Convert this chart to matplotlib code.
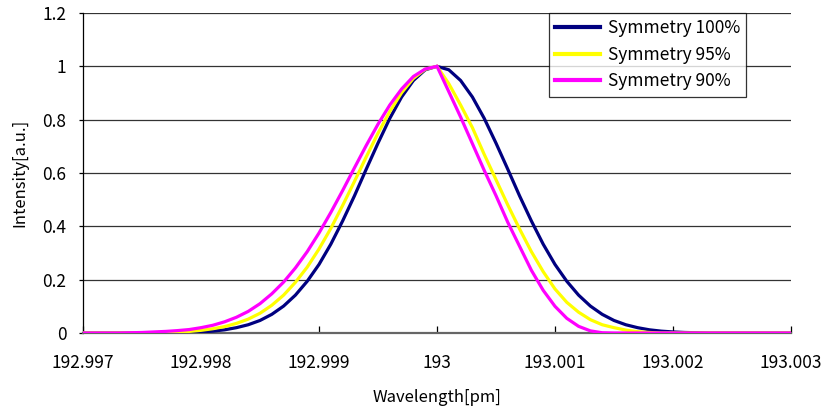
import numpy as np
import matplotlib
matplotlib.use("Agg")
import matplotlib.pyplot as plt

plt.rcParams['font.family'] = ['Noto Sans CJK JP', 'DejaVu Sans']

# Sampling grid: 192.997 .. 193.003 pm in 0.0001 pm steps (61 samples)
wavelength = np.linspace(192.997, 193.003, 61)

# Intensity profiles, left half (k = -30 .. -1), peak, right half (k = 1 .. 30)
sym100_left = [0, 0, 0, 0, 0, 0, 0, 0, 0.001, 0.002, 0.004, 0.007, 0.012, 0.020, 0.031,
               0.047, 0.070, 0.101, 0.142, 0.194, 0.257, 0.333, 0.420, 0.514, 0.614,
               0.712, 0.805, 0.885, 0.947, 0.987]
sym100_right = sym100_left[::-1]

sym95_left = [0, 0, 0, 0, 0, 0, 0.001, 0.002, 0.004, 0.006, 0.010, 0.016, 0.024, 0.036,
              0.052, 0.074, 0.104, 0.142, 0.190, 0.247, 0.315, 0.392, 0.478, 0.568,
              0.660, 0.749, 0.831, 0.901, 0.955, 0.989]
sym95_right = [0.935, 0.855, 0.770, 0.670, 0.575, 0.480, 0.390, 0.305, 0.230, 0.165,
               0.115, 0.078, 0.050, 0.031, 0.020, 0.011, 0.005, 0.002, 0, 0,
               0, 0, 0, 0, 0, 0, 0, 0, 0, 0]

sym90_left = [0, 0, 0, 0, 0.001, 0.002, 0.004, 0.006, 0.009, 0.013, 0.020, 0.029, 0.042,
              0.059, 0.081, 0.110, 0.147, 0.191, 0.244, 0.305, 0.375, 0.452, 0.534,
              0.619, 0.703, 0.783, 0.855, 0.915, 0.962, 0.990]
sym90_right = [0.905, 0.810, 0.710, 0.610, 0.515, 0.415, 0.325, 0.235, 0.160, 0.100,
               0.055, 0.025, 0.008, 0.001, 0, 0, 0, 0, 0, 0,
               0, 0, 0, 0, 0, 0, 0, 0, 0, 0]

peak = [1.0]
series = {
    "Symmetry 100%": (sym100_left + peak + sym100_right, "#000080"),
    "Symmetry 95%": (sym95_left + peak + sym95_right, "#FFFF00"),
    "Symmetry 90%": (sym90_left + peak + sym90_right, "#FF00FF"),
}

x_ticks = [192.997, 192.998, 192.999, 193.0, 193.001, 193.002, 193.003]
x_tick_labels = ["192.997", "192.998", "192.999", "193", "193.001", "193.002", "193.003"]
y_ticks = [0, 0.2, 0.4, 0.6, 0.8, 1.0, 1.2]
y_tick_labels = ["0", "0.2", "0.4", "0.6", "0.8", "1", "1.2"]

fig = plt.figure(figsize=(8.25, 4.09), dpi=100)
ax = fig.add_axes([0.1006, 0.1858, 0.8582, 0.7824])

for yt in y_ticks[1:]:
    ax.axhline(yt, color="#333333", lw=0.9, zorder=1)

for name, (vals, color) in series.items():
    ax.plot(wavelength, vals, color=color, lw=2.3, label=name, zorder=3,
            solid_joinstyle="miter")

ax.set_xlim(192.997, 193.003)
ax.set_ylim(0, 1.2)
ax.set_xticks(x_ticks)
ax.set_xticklabels(x_tick_labels)
ax.set_yticks(y_ticks)
ax.set_yticklabels(y_tick_labels)

for s in ("top", "right"):
    ax.spines[s].set_visible(False)
ax.spines["left"].set_color("black")
ax.spines["left"].set_linewidth(0.9)
ax.spines["bottom"].set_color("#666666")
ax.spines["bottom"].set_linewidth(1.6)

ax.tick_params(axis="x", direction="in", length=5, width=0.9, color="black",
               labelsize=12.5, pad=15)
ax.tick_params(axis="y", direction="out", length=3, width=0.9, labelsize=12.5, pad=9)

ax.set_xlabel("Wavelength[pm]", fontsize=12, labelpad=12)
ax.set_ylabel("Intensity[a.u.]", fontsize=12, labelpad=10)

leg = ax.legend(loc="upper right", bbox_to_anchor=(0.9364, 1.0), borderaxespad=0,
                fontsize=12.5, frameon=True, fancybox=False, handlelength=2.6,
                handletextpad=0.45, borderpad=0.35, labelspacing=0.5)
leg.get_frame().set_edgecolor("black")
leg.get_frame().set_linewidth(0.9)
for line in leg.get_lines():
    line.set_linewidth(3)

fig.savefig("out.png", dpi=100)
